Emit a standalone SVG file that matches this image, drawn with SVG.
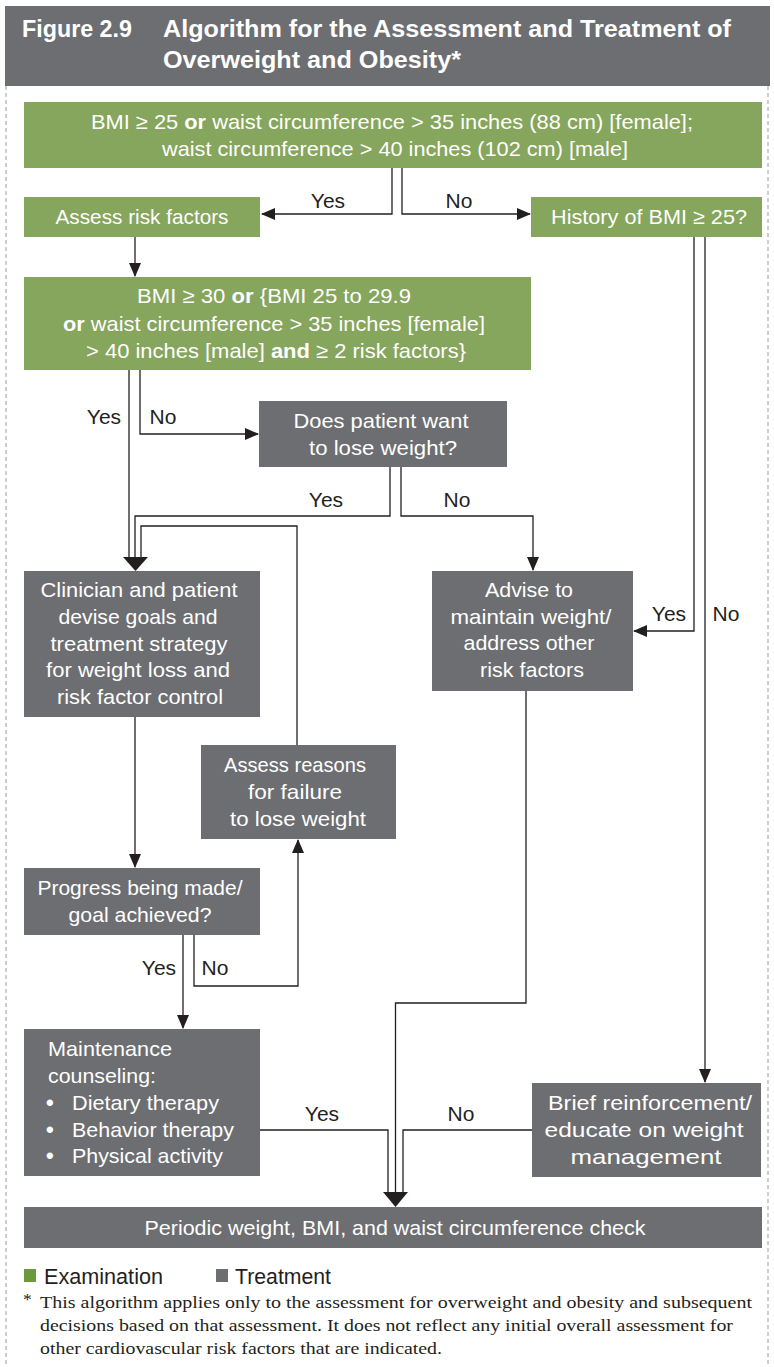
<svg xmlns="http://www.w3.org/2000/svg" width="774" height="1367" viewBox="0 0 774 1367">
<defs>
<style>
.bg{fill:#ffffff}
.hdr{fill:#6d6e71}
.g{fill:#86a55d}
.d{fill:#6d6e71}
.ttl{font-family:"Liberation Sans",Arial,sans-serif;font-weight:bold;font-size:23px;fill:#ffffff}
.t{font-family:"Liberation Sans",Arial,sans-serif;font-size:21px;fill:#ffffff;text-anchor:middle}
.tl{font-family:"Liberation Sans",Arial,sans-serif;font-size:21px;fill:#ffffff}
.bu{font-family:"Liberation Sans",Arial,sans-serif;font-size:22px;font-weight:bold;fill:#ffffff}
.lb{font-family:"Liberation Sans",Arial,sans-serif;font-size:21px;fill:#231f20;text-anchor:middle}
.lg{font-family:"Liberation Sans",Arial,sans-serif;font-size:22px;fill:#231f20}
.fn{font-family:"Liberation Serif","Times New Roman",serif;font-size:17.5px;fill:#231f20}
.b{font-weight:bold}
.c{fill:none;stroke:#231f20;stroke-width:1.3}
.ah{fill:#231f20}
.dash{fill:none;stroke:#9a9a9a;stroke-width:1;stroke-dasharray:4 3}
</style>
<marker id="arr" markerUnits="userSpaceOnUse" markerWidth="14" markerHeight="12" refX="13" refY="6" orient="auto">
<path d="M0,0 L14,6 L0,12 z" fill="#231f20"/>
</marker>
</defs>
<rect class="bg" x="0" y="0" width="774" height="1367"/>
<rect class="hdr" x="5" y="6" width="765" height="80"/>
<path class="dash" d="M6,86 V1367 M768,86 V1367"/>
<g id="title">
<text class="ttl" x="22" y="37" textLength="110" lengthAdjust="spacingAndGlyphs">Figure 2.9</text>
<text class="ttl" x="163" y="37" textLength="568" lengthAdjust="spacingAndGlyphs">Algorithm for the Assessment and Treatment of</text>
<text class="ttl" x="163" y="68" textLength="298" lengthAdjust="spacingAndGlyphs">Overweight and Obesity*</text>
</g>
<g id="connectors">
<path class="c" d="M392,168 V214 H262" marker-end="url(#arr)"/>
<path class="c" d="M402,168 V214 H530" marker-end="url(#arr)"/>
<path class="c" d="M135,237 V276" marker-end="url(#arr)"/>
<path class="c" d="M129,370 V559"/>
<path class="c" d="M140,370 V434 H258" marker-end="url(#arr)"/>
<path class="c" d="M390,467 V516 H135 V559"/>
<path class="c" d="M401,467 V516 H533 V570" marker-end="url(#arr)"/>
<path class="c" d="M297,745 V526 H141 V559"/>
<polygon class="ah" points="123,557 148,557 135.5,571"/>
<path class="c" d="M135,717 V867" marker-end="url(#arr)"/>
<path class="c" d="M183,935 V1028" marker-end="url(#arr)"/>
<path class="c" d="M194,935 V986 H298 V840" marker-end="url(#arr)"/>
<path class="c" d="M694,237 V631 H634" marker-end="url(#arr)"/>
<path class="c" d="M705,237 V1082" marker-end="url(#arr)"/>
<path class="c" d="M526,691 V1003 H395.5 V1194"/>
<path class="c" d="M260,1130 H388 V1194"/>
<path class="c" d="M532,1130 H403 V1194"/>
<polygon class="ah" points="383,1192 408,1192 395.5,1207"/>
<text class="lb" x="328" y="208">Yes</text>
<text class="lb" x="459" y="208">No</text>
<text class="lb" x="104" y="424">Yes</text>
<text class="lb" x="163" y="424">No</text>
<text class="lb" x="326" y="507">Yes</text>
<text class="lb" x="457" y="507">No</text>
<text class="lb" x="669" y="621">Yes</text>
<text class="lb" x="726" y="621">No</text>
<text class="lb" x="159" y="975">Yes</text>
<text class="lb" x="215" y="975">No</text>
<text class="lb" x="322" y="1121">Yes</text>
<text class="lb" x="461" y="1121">No</text>
</g>
<g id="n-bmi25">
<rect class="g" x="24" y="102" width="738" height="66"/>
<text class="t" x="392" y="129" textLength="602" lengthAdjust="spacingAndGlyphs">BMI ≥ 25 <tspan class="b">or</tspan> waist circumference &gt; 35 inches (88 cm) [female];</text>
<text class="t" x="395" y="156" textLength="466" lengthAdjust="spacingAndGlyphs">waist circumference &gt; 40 inches (102 cm) [male]</text>
</g>
<g id="n-assess">
<rect class="g" x="24" y="197" width="236" height="40"/>
<text class="t" x="142" y="224" textLength="173" lengthAdjust="spacingAndGlyphs">Assess risk factors</text>
</g>
<g id="n-history">
<rect class="g" x="531" y="197" width="231" height="40"/>
<text class="t" x="649" y="224" textLength="196" lengthAdjust="spacingAndGlyphs">History of BMI ≥ 25?</text>
</g>
<g id="n-bmi30">
<rect class="g" x="24" y="277" width="507" height="93"/>
<text class="t" x="274" y="303" textLength="274" lengthAdjust="spacingAndGlyphs">BMI ≥ 30 <tspan class="b">or</tspan> {BMI 25 to 29.9</text>
<text class="t" x="274" y="331" textLength="422" lengthAdjust="spacingAndGlyphs"><tspan class="b">or</tspan> waist circumference &gt; 35 inches [female]</text>
<text class="t" x="276" y="358" textLength="380" lengthAdjust="spacingAndGlyphs">&gt; 40 inches [male] <tspan class="b">and</tspan> ≥ 2 risk factors}</text>
</g>
<g id="n-want">
<rect class="d" x="259" y="401" width="248" height="66"/>
<text class="t" x="381" y="428" textLength="175" lengthAdjust="spacingAndGlyphs">Does patient want</text>
<text class="t" x="383" y="455" textLength="148" lengthAdjust="spacingAndGlyphs">to lose weight?</text>
</g>
<g id="n-clinician">
<rect class="d" x="24" y="571" width="236" height="146"/>
<text class="t" x="139" y="597" textLength="197" lengthAdjust="spacingAndGlyphs">Clinician and patient</text>
<text class="t" x="138" y="624" textLength="159" lengthAdjust="spacingAndGlyphs">devise goals and</text>
<text class="t" x="139" y="651" textLength="177" lengthAdjust="spacingAndGlyphs">treatment strategy</text>
<text class="t" x="138" y="677" textLength="184" lengthAdjust="spacingAndGlyphs">for weight loss and</text>
<text class="t" x="140" y="704" textLength="166" lengthAdjust="spacingAndGlyphs">risk factor control</text>
</g>
<g id="n-reasons">
<rect class="d" x="201" y="745" width="195" height="94"/>
<text class="t" x="295" y="772" textLength="142" lengthAdjust="spacingAndGlyphs">Assess reasons</text>
<text class="t" x="295" y="799" textLength="94" lengthAdjust="spacingAndGlyphs">for failure</text>
<text class="t" x="298" y="826" textLength="136" lengthAdjust="spacingAndGlyphs">to lose weight</text>
</g>
<g id="n-progress">
<rect class="d" x="24" y="868" width="236" height="67"/>
<text class="t" x="140" y="895" textLength="205" lengthAdjust="spacingAndGlyphs">Progress being made/</text>
<text class="t" x="140" y="922" textLength="143" lengthAdjust="spacingAndGlyphs">goal achieved?</text>
</g>
<g id="n-maint">
<rect class="d" x="24" y="1029" width="236" height="147"/>
<text class="tl" x="48" y="1056" textLength="124" lengthAdjust="spacingAndGlyphs">Maintenance</text>
<text class="tl" x="48" y="1083" textLength="108" lengthAdjust="spacingAndGlyphs">counseling:</text>
<text class="tl" x="46" y="1110"><tspan class="bu">•</tspan><tspan x="72" textLength="147" lengthAdjust="spacingAndGlyphs">Dietary therapy</tspan></text>
<text class="tl" x="46" y="1137"><tspan class="bu">•</tspan><tspan x="72" textLength="162" lengthAdjust="spacingAndGlyphs">Behavior therapy</tspan></text>
<text class="tl" x="46" y="1163"><tspan class="bu">•</tspan><tspan x="72" textLength="151" lengthAdjust="spacingAndGlyphs">Physical activity</tspan></text>
</g>
<g id="n-advise">
<rect class="d" x="432" y="571" width="201" height="120"/>
<text class="t" x="529" y="597" textLength="88" lengthAdjust="spacingAndGlyphs">Advise to</text>
<text class="t" x="531" y="624" textLength="161" lengthAdjust="spacingAndGlyphs">maintain weight/</text>
<text class="t" x="529" y="650" textLength="131" lengthAdjust="spacingAndGlyphs">address other</text>
<text class="t" x="532" y="677" textLength="104" lengthAdjust="spacingAndGlyphs">risk factors</text>
</g>
<g id="n-brief">
<rect class="d" x="532" y="1083" width="229" height="94"/>
<text class="t" x="650" y="1110" textLength="204" lengthAdjust="spacingAndGlyphs">Brief reinforcement/</text>
<text class="t" x="644" y="1137" textLength="199" lengthAdjust="spacingAndGlyphs">educate on weight</text>
<text class="t" x="646" y="1164" textLength="151" lengthAdjust="spacingAndGlyphs">management</text>
</g>
<g id="n-periodic">
<rect class="d" x="24" y="1207" width="738" height="41"/>
<text class="t" x="395" y="1235" textLength="501" lengthAdjust="spacingAndGlyphs">Periodic weight, BMI, and waist circumference check</text>
</g>
<g id="legend">
<rect x="24" y="1269" width="12" height="13" fill="#6a9a3a"/>
<text class="lg" x="44" y="1284" textLength="119" lengthAdjust="spacingAndGlyphs">Examination</text>
<rect x="216" y="1269" width="12" height="13" fill="#6d6e71"/>
<text class="lg" x="235" y="1284" textLength="96" lengthAdjust="spacingAndGlyphs">Treatment</text>
</g>
<g id="footnote">
<text class="fn" x="23" y="1305" font-size="13">*</text>
<text class="fn" x="40" y="1308" textLength="712" lengthAdjust="spacingAndGlyphs">This algorithm applies only to the assessment for overweight and obesity and subsequent</text>
<text class="fn" x="40" y="1331" textLength="693" lengthAdjust="spacingAndGlyphs">decisions based on that assessment. It does not reflect any initial overall assessment for</text>
<text class="fn" x="40" y="1354" textLength="402" lengthAdjust="spacingAndGlyphs">other cardiovascular risk factors that are indicated.</text>
</g>
</svg>
